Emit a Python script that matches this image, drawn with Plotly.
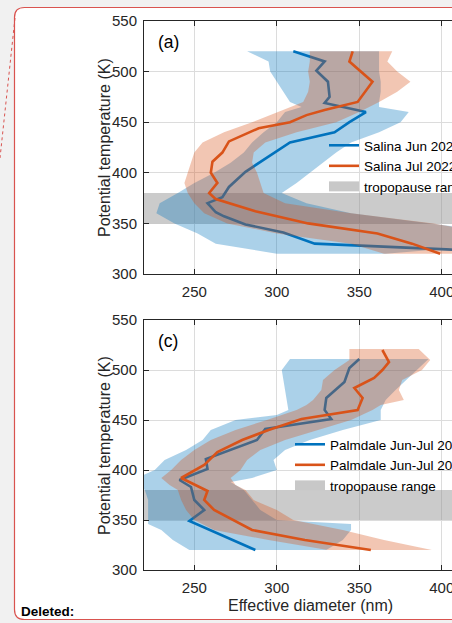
import plotly.graph_objects as go

W, H = 452, 623

# ---------------- Panel (a): Salina ----------------
sal_jun_theta = [520, 510, 501, 490, 475, 469, 460, 450, 440, 430, 401, 386, 376, 370, 361, 357, 349, 341, 330, 327, 324, 321]
sal_jun_dp = [310, 329, 324, 331, 332, 329, 354, 344, 335, 308, 281, 271, 267, 258, 263, 268, 281, 304, 323, 361, 404, 450]

sal_jul_theta = [520, 510, 490, 470, 462, 457, 450, 444, 431, 420, 411, 400, 390, 380, 374, 362, 350, 340, 330, 320]
sal_jul_dp = [346, 344, 358, 349, 329, 318, 308, 289, 271, 267, 261, 260, 264, 259, 263, 287, 319, 361, 382, 399]

sal_jun_band_theta = [520, 510, 500, 490, 480, 470, 465, 460, 450, 440, 430, 420, 410, 400, 390, 380, 370, 360, 350, 340, 330, 320]
sal_jun_lo = [282, 295, 296, 300, 304, 308, 315, 305, 300, 292, 285, 280, 272, 262, 250, 240, 229, 227, 238, 252, 263, 300]
sal_jun_hi = [362, 362, 362, 363, 363, 362, 362, 380, 375, 362, 345, 336, 328, 320, 312, 303, 318, 345, 390, 440, 440, 366]

sal_jul_band_theta = [520, 510, 500, 490, 480, 470, 460, 450, 440, 430, 420, 410, 400, 390, 380, 370, 360, 350, 340, 330, 320]
sal_jul_lo = [320, 320, 319, 320, 319, 316, 300, 285, 268, 255, 250, 248, 246, 244, 246, 250, 256, 270, 300, 345, 365]
sal_jul_hi = [370, 367, 373, 381, 373, 362, 350, 336, 312, 293, 286, 285, 288, 290, 292, 305, 345, 395, 430, 440, 440]

# ---------------- Panel (c): Palmdale ----------------
pal_a_theta = [511, 502, 488, 472, 460, 451, 441, 430, 411, 401, 390, 383, 370, 360, 349, 320]
pal_a_dp = [350, 344, 341, 330, 329, 333, 293, 288, 257, 258, 241, 248, 250, 256, 247, 287]

pal_b_theta = [520, 508, 500, 492, 482, 472, 460, 455, 451, 440, 430, 418, 405, 392, 379, 370, 360, 340, 330, 320]
pal_b_dp = [364, 368, 364, 359, 347, 352, 349, 330, 315, 295, 279, 264, 256, 242, 258, 256, 262, 285, 317, 357]

pal_a_band_theta = [511, 500, 490, 480, 470, 460, 455, 450, 440, 430, 420, 410, 400, 392, 388, 380, 370, 360, 350, 346, 340, 330, 320]
pal_a_lo = [308, 303, 304, 305, 306, 307, 300, 275, 260, 255, 245, 232, 226, 215, 215, 220, 222, 222, 222, 222, 230, 237, 247]
pal_a_hi = [392, 385, 378, 372, 366, 363, 363, 363, 340, 320, 305, 298, 300, 285, 272, 280, 285, 290, 300, 345, 345, 340, 330]

pal_b_band_theta = [521, 510, 500, 490, 480, 470, 465, 460, 450, 440, 430, 420, 410, 400, 392, 385, 380, 370, 360, 350, 340, 330, 320]
pal_b_lo = [344, 344, 335, 328, 327, 322, 318, 312, 294, 275, 260, 250, 242, 236, 230, 235, 240, 242, 245, 250, 262, 295, 331]
pal_b_hi = [386, 393, 388, 376, 374, 377, 363, 358, 345, 325, 305, 290, 282, 278, 272, 275, 281, 286, 300, 310, 340, 365, 394]

tropopause_range = [350, 380]

labels_a = ["Salina Jun 2022", "Salina Jul 2022", "tropopause range"]
labels_c = ["Palmdale Jun-Jul 2021", "Palmdale Jun-Jul 2022", "tropopause range"]

x_ticks = [250, 300, 350, 400]
y_ticks = [300, 350, 400, 450, 500, 550]
X_RANGE = [219.5, 406.2]
Y_RANGE = [300, 550]

BLUE = "#0072BD"
ORANGE = "#D95319"
BLUE_FILL = "rgba(0,114,189,0.33)"
ORANGE_FILL = "rgba(217,83,25,0.33)"
GRAY_FILL = "rgba(140,140,140,0.45)"
FONT = "Liberation Sans, Arial, Helvetica, sans-serif"
TXT = "#262626"


def px(x):
    return x / W


def py(y):
    return 1 - y / H


def band(theta, lo, hi):
    xs = list(hi) + list(lo)[::-1] + [hi[0]]
    ys = list(theta) + list(theta)[::-1] + [theta[0]]
    return xs, ys


fig = go.Figure()


def add_panel(xa, ya, leg, t1, x1, b1t, b1lo, b1hi, t2, x2, b2t, b2lo, b2hi, labels):
    big = 1000
    # tropopause band
    fig.add_trace(go.Scatter(
        x=[-big, big, big, -big, -big],
        y=[tropopause_range[0], tropopause_range[0], tropopause_range[1], tropopause_range[1], tropopause_range[0]],
        fill="toself", fillcolor=GRAY_FILL, line=dict(width=0), mode="lines",
        xaxis=xa, yaxis=ya, showlegend=False, hoverinfo="skip"))
    bx, by = band(b1t, b1lo, b1hi)
    fig.add_trace(go.Scatter(x=bx, y=by, fill="toself", fillcolor=BLUE_FILL, line=dict(width=0),
                             mode="lines", xaxis=xa, yaxis=ya, showlegend=False, hoverinfo="skip"))
    fig.add_trace(go.Scatter(x=x1, y=t1, mode="lines", line=dict(color=BLUE, width=2.6),
                             name=labels[0], legend=leg, legendrank=1, xaxis=xa, yaxis=ya))
    bx, by = band(b2t, b2lo, b2hi)
    fig.add_trace(go.Scatter(x=bx, y=by, fill="toself", fillcolor=ORANGE_FILL, line=dict(width=0),
                             mode="lines", xaxis=xa, yaxis=ya, showlegend=False, hoverinfo="skip"))
    fig.add_trace(go.Scatter(x=x2, y=t2, mode="lines", line=dict(color=ORANGE, width=2.6),
                             name=labels[1], legend=leg, legendrank=2, xaxis=xa, yaxis=ya))
    # legend entry for tropopause range
    fig.add_trace(go.Scatter(x=[None], y=[None], mode="lines", line=dict(color="#c8c8c8", width=12),
                             name=labels[2], legend=leg, legendrank=3, xaxis=xa, yaxis=ya))


add_panel("x", "y", "legend", sal_jun_theta, sal_jun_dp, sal_jun_band_theta, sal_jun_lo, sal_jun_hi,
          sal_jul_theta, sal_jul_dp, sal_jul_band_theta, sal_jul_lo, sal_jul_hi, labels_a)
add_panel("x2", "y2", "legend2", pal_a_theta, pal_a_dp, pal_a_band_theta, pal_a_lo, pal_a_hi,
          pal_b_theta, pal_b_dp, pal_b_band_theta, pal_b_lo, pal_b_hi, labels_c)

xax = dict(range=X_RANGE, tickvals=x_ticks, ticks="inside", ticklen=5, tickcolor=TXT,
           showline=True, linecolor=TXT, linewidth=1, mirror="ticks", showgrid=True,
           gridcolor="#dcdcdc", gridwidth=1, zeroline=False, tickfont=dict(size=15, color=TXT, family=FONT),
           ticklabelstandoff=4, ticklabeloverflow="allow", domain=[px(144), 1.0])
yax = dict(range=Y_RANGE, tickvals=y_ticks, ticks="inside", ticklen=5, tickcolor=TXT,
           showline=True, linecolor=TXT, linewidth=1, mirror=False, showgrid=True,
           gridcolor="#dcdcdc", gridwidth=1, zeroline=False, tickfont=dict(size=15, color=TXT, family=FONT),
           ticklabelstandoff=3, ticklabeloverflow="allow")

fig.update_layout(
    width=W, height=H,
    margin=dict(l=0, r=0, t=0, b=0, pad=0, autoexpand=False),
    paper_bgcolor="#f1f1f1", plot_bgcolor="white",
    font=dict(family=FONT, color=TXT),
    xaxis=dict(xax, anchor="y"),
    yaxis=dict(yax, anchor="x", domain=[py(274), py(21)]),
    xaxis2=dict(xax, anchor="y2"),
    yaxis2=dict(yax, anchor="x2", domain=[py(570), py(320)]),
    legend=dict(x=px(324), y=py(130), xanchor="left", yanchor="top", bgcolor="rgba(0,0,0,0)",
                borderwidth=0, font=dict(size=13.5, color="black", family=FONT), tracegroupgap=0, itemwidth=30),
    legend2=dict(x=px(290), y=py(429), xanchor="left", yanchor="top", bgcolor="rgba(0,0,0,0)",
                 borderwidth=0, font=dict(size=13.5, color="black", family=FONT), tracegroupgap=0, itemwidth=30),
    showlegend=True,
)

# Document frame (white comment box with red border)
x0, y0, x1, y1, r = 14.5, 7.5, 462, 619.5, 10
path = (f"M {px(x0)},{py(y0 + r)} Q {px(x0)},{py(y0)} {px(x0 + r)},{py(y0)} "
        f"L {px(x1 - r)},{py(y0)} Q {px(x1)},{py(y0)} {px(x1)},{py(y0 + r)} "
        f"L {px(x1)},{py(y1 - r)} Q {px(x1)},{py(y1)} {px(x1 - r)},{py(y1)} "
        f"L {px(x0 + r)},{py(y1)} Q {px(x0)},{py(y1)} {px(x0)},{py(y1 - r)} Z")
fig.add_shape(type="path", path=path, xref="paper", yref="paper", layer="below",
              fillcolor="white", line=dict(color="#d9534f", width=1.2))
fig.add_shape(type="line", xref="paper", yref="paper", x0=px(15), y0=py(18), x1=px(0), y1=py(158),
              line=dict(color="#d9534f", width=1, dash="dot"), layer="above")

ann = [
    dict(text="(a)", x=px(156), y=py(42), xanchor="left", yanchor="middle", font=dict(size=17.5, color="black")),
    dict(text="(c)", x=px(156), y=py(341), xanchor="left", yanchor="middle", font=dict(size=17.5, color="black")),
    dict(text="Potential temperature (K)", x=px(104), y=py(148), textangle=-90, xanchor="center",
         yanchor="middle", font=dict(size=16, color=TXT)),
    dict(text="Potential temperature (K)", x=px(104), y=py(446), textangle=-90, xanchor="center",
         yanchor="middle", font=dict(size=16, color=TXT)),
    dict(text="Effective diameter (nm)", x=px(310), y=py(605), xanchor="center", yanchor="middle",
         font=dict(size=16, color=TXT)),
    dict(text="<b>Deleted:</b>", x=px(19), y=py(611), xanchor="left", yanchor="middle",
         font=dict(size=13.5, color="black")),
]
for a in ann:
    fig.add_annotation(xref="paper", yref="paper", showarrow=False, **a)

fig.write_html("out.html", config={"displayModeBar": False},
               post_script="document.body.style.margin='0';document.body.style.overflow='hidden';")
